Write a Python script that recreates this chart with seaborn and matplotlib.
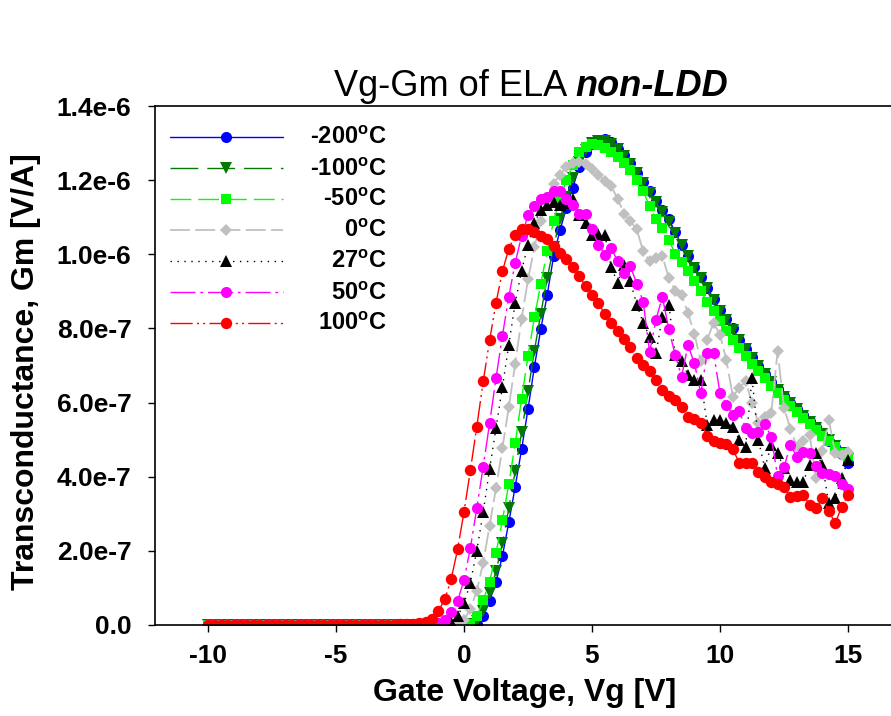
import numpy as np
import pandas as pd
import matplotlib
matplotlib.use("Agg")
import matplotlib.pyplot as plt
from matplotlib.lines import Line2D
import seaborn as sns

# ---------------- data (Gm in units of 1e-7 A/V) ----------------
vg = [-10.0, -9.75, -9.5, -9.25,
      -9.0, -8.75, -8.5, -8.25,
      -8.0, -7.75, -7.5, -7.25,
      -7.0, -6.75, -6.5, -6.25,
      -6.0, -5.75, -5.5, -5.25,
      -5.0, -4.75, -4.5, -4.25,
      -4.0, -3.75, -3.5, -3.25,
      -3.0, -2.75, -2.5, -2.25,
      -2.0, -1.75, -1.5, -1.25,
      -1.0, -0.75, -0.5, -0.25,
      0.0,
      0.25, 0.5, 0.75, 1.0,
      1.25, 1.5, 1.75, 2.0,
      2.25, 2.5, 2.75, 3.0,
      3.25, 3.5, 3.75, 4.0,
      4.25, 4.5, 4.75, 5.0,
      5.25, 5.5, 5.75, 6.0,
      6.25, 6.5, 6.75, 7.0,
      7.25, 7.5, 7.75, 8.0,
      8.25, 8.5, 8.75, 9.0,
      9.25, 9.5, 9.75, 10.0,
      10.25, 10.5, 10.75, 11.0,
      11.25, 11.5, 11.75, 12.0,
      12.25, 12.5, 12.75, 13.0,
      13.25, 13.5, 13.75, 14.0,
      14.25, 14.5, 14.75, 15.0]

gm_m200 = [0, 0, 0, 0,  0, 0, 0, 0,  0, 0, 0, 0,  0, 0, 0, 0,  0, 0, 0, 0,
           0, 0, 0, 0,  0, 0, 0, 0,  0, 0, 0, 0,  0, 0, 0, 0,  0, 0, 0, 0,
           0.0,
           0.01, 0.04, 0.24, 0.65,
           1.16, 1.86, 2.77, 3.73,
           4.74, 5.82, 6.97, 7.98,
           8.9, 9.95, 10.65, 11.25,
           11.8, 12.35, 12.75, 12.98,
           13.08, 13.1, 13.02, 12.85,
           12.67, 12.45, 12.2, 11.95,
           11.7, 11.45, 11.2, 10.95,
           10.6, 10.25, 9.95, 9.65,
           9.38, 9.1, 8.8, 8.5,
           8.25, 8.0, 7.7, 7.45,
           7.22, 7.0, 6.78, 6.56,
           6.36, 6.18, 6.0, 5.84,
           5.66, 5.5, 5.33, 5.15,
           4.97, 4.8, 4.6, 4.38]

gm_m100 = [0, 0, 0, 0,  0, 0, 0, 0,  0, 0, 0, 0,  0, 0, 0, 0,  0, 0, 0, 0,
           0, 0, 0, 0,  0, 0, 0, 0,  0, 0, 0, 0,  0, 0, 0, 0,  0, 0, 0, 0,
           0.0,
           0.02, 0.1, 0.38, 0.85,
           1.45, 2.2, 3.15, 4.15,
           5.2, 6.3, 7.4, 8.4,
           9.35, 10.2, 10.95, 11.55,
           12.05, 12.5, 12.82, 13.0,
           13.06, 13.05, 12.98, 12.85,
           12.66, 12.44, 12.18, 11.92,
           11.66, 11.4, 11.14, 10.88,
           10.58, 10.25, 9.95, 9.64,
           9.36, 9.08, 8.78, 8.48,
           8.22, 7.96, 7.68, 7.44,
           7.2, 6.98, 6.76, 6.55,
           6.35, 6.16, 5.98, 5.82,
           5.64, 5.48, 5.32, 5.15,
           4.98, 4.82, 4.65, 4.48]

gm_m50 = [0, 0, 0, 0,  0, 0, 0, 0,  0, 0, 0, 0,  0, 0, 0, 0,  0, 0, 0, 0,
          0, 0, 0, 0,  0, 0, 0, 0,  0, 0, 0, 0,  0, 0, 0, 0,  0, 0, 0, 0,
          0.01,
          0.04, 0.23, 0.67, 1.16,
          1.94, 2.83, 3.8, 4.9,
          6.1, 7.25, 8.3, 9.2,
          10.1, 10.9, 11.5, 12.0,
          12.4, 12.75, 12.9, 12.97,
          12.95, 12.88, 12.76, 12.62,
          12.47, 12.28, 12.0, 11.7,
          11.3, 10.95, 10.7, 10.38,
          10.02, 9.8, 9.55, 9.28,
          9.0, 8.72, 8.47, 8.2,
          7.92, 7.68, 7.47, 7.25,
          7.04, 6.85, 6.65, 6.45,
          6.25, 6.07, 5.9, 5.74,
          5.58, 5.42, 5.26, 5.1,
          4.95, 4.8, 4.65, 4.55]

gm_0 = [0, 0, 0, 0,  0, 0, 0, 0,  0, 0, 0, 0,  0, 0, 0, 0,  0, 0, 0, 0,
        0, 0, 0, 0,  0, 0, 0, 0,  0, 0, 0, 0,  0, 0, 0, 0,
        0.01, 0.02, 0.04, 0.07,
        0.13,
        0.44, 0.92, 1.68, 2.68,
        3.69, 4.77, 5.88, 7.05,
        8.26, 9.32, 10.19, 10.9,
        11.5, 11.9, 12.15, 12.35,
        12.47, 12.5, 12.43, 12.3,
        12.15, 11.97, 11.84, 11.5,
        11.1, 10.89, 10.67, 10.08,
        9.81, 9.9, 9.95, 9.36,
        9.02, 8.91, 8.41, 7.86,
        7.11, 7.7, 8.15, 7.83,
        7.15, 6.16, 6.4, 6.57,
        6.0, 5.45, 5.6, 5.71,
        7.38, 5.85, 5.3, 4.81,
        4.95, 5.13, 3.96, 4.7,
        5.53, 4.63, 4.58, 4.68]

gm_27 = [0, 0, 0, 0,  0, 0, 0, 0,  0, 0, 0, 0,  0, 0, 0, 0,  0, 0, 0, 0,
         0, 0, 0, 0,  0, 0, 0, 0,  0, 0, 0, 0,
         0, 0, 0, 0.01,
         0.02, 0.03, 0.08, 0.24,
         0.58,
         1.14, 2.0, 3.05, 4.21,
         5.31, 6.42, 7.56, 8.69,
         9.56, 10.26, 10.85, 11.2,
         11.32, 11.41, 11.34, 11.39,
         11.48, 11.07, 10.85, 10.53,
         10.55, 10.53, 9.65, 9.23,
         9.72, 9.27, 8.64, 8.15,
         7.78, 7.33, 8.32, 8.64,
         7.29, 7.11, 6.75, 6.6,
         6.61, 5.4, 5.53, 5.53,
         5.45, 5.35, 4.99, 4.81,
         6.66, 4.99, 4.23, 4.86,
         4.63, 4.23, 3.91, 3.86,
         3.86, 4.32, 4.65, 4.32,
         3.28, 3.42, 3.96, 4.45]

gm_50 = [0, 0, 0, 0,  0, 0, 0, 0,  0, 0, 0, 0,  0, 0, 0, 0,  0, 0, 0, 0,
         0, 0, 0, 0,  0, 0, 0, 0,  0, 0, 0, 0,
         0, 0, 0.01, 0.03,
         0.05, 0.13, 0.34, 0.65,
         1.21,
         2.08, 3.15, 4.27, 5.44,
         6.66, 7.8, 8.86, 9.77,
         10.5, 11.05, 11.3, 11.48,
         11.55, 11.72, 11.7, 11.48,
         11.34, 11.1, 11.1, 10.67,
         10.26, 9.99, 10.17, 9.81,
         9.5, 9.68, 9.2, 8.72,
         7.36, 8.24, 8.85, 7.98,
         7.28, 6.7, 7.55, 7.06,
         6.25, 7.34, 7.34, 6.25,
         5.94, 5.67, 5.78, 5.31,
         5.19, 5.2, 5.42, 5.08,
         4.02, 4.25, 4.86, 4.54,
         4.68, 4.63, 4.3, 4.11,
         4.07, 4.02, 3.8, 3.66]

gm_100 = [0, 0, 0, 0,  0, 0, 0, 0,  0, 0, 0, 0,  0, 0, 0, 0,  0, 0, 0, 0,
          0, 0, 0, 0,  0, 0, 0, 0,
          0.01, 0.01, 0.02, 0.02,
          0.03, 0.05, 0.08, 0.17,
          0.38, 0.69, 1.24, 2.04,
          3.05,
          4.18, 5.35, 6.57, 7.68,
          8.69, 9.54, 10.15, 10.53,
          10.67, 10.69, 10.6, 10.49,
          10.42, 10.22, 10.04, 9.88,
          9.66, 9.41, 9.14, 8.91,
          8.69, 8.38, 8.15, 7.94,
          7.72, 7.5, 7.2, 7.02,
          6.86, 6.6, 6.33, 6.17,
          6.06, 5.87, 5.6, 5.56,
          5.46, 5.1, 4.96, 4.9,
          4.88, 4.74, 4.38, 4.38,
          4.38, 4.14, 4.0, 3.86,
          3.8, 3.73, 3.46, 3.48,
          3.5, 3.24, 3.15, 3.42,
          3.08, 2.74, 3.19, 3.5]

temps = ["-200", "-100", "-50", "0", "27", "50", "100"]
series_vals = [gm_m200, gm_m100, gm_m50, gm_0, gm_27, gm_50, gm_100]
x_ticks = [-10, -5, 0, 5, 10, 15]
y_ticks = [0.0, 2e-7, 4e-7, 6e-7, 8e-7, 1.0e-6, 1.2e-6, 1.4e-6]
y_ticklabels = ["0.0", "2.0e-7", "4.0e-7", "6.0e-7", "8.0e-7", "1.0e-6", "1.2e-6", "1.4e-6"]

# ---------------- styling ----------------
styles = {
    "-200": dict(color="#0000FF", marker="o", ms=8.0, ls="-", lw=1.0),
    "-100": dict(color="#007A00", marker="v", ms=8.3, ls=(0, (20, 6.5)), lw=1.0),
    "-50":  dict(color="#00FF00", marker="s", ms=7.2, ls=(0, (15, 5)), lw=1.0),
    "0":    dict(color="#C0C0C0", marker="D", ms=6.4, ls=(0, (11, 3)), lw=1.3),
    "27":   dict(color="#000000", marker="^", ms=8.3, ls=(0, (1, 4)), lw=1.0),
    "50":   dict(color="#FF00FF", marker="o", ms=8.0, ls=(0, (18, 3.5, 2, 3.5)), lw=1.0),
    "100":  dict(color="#FF0000", marker="o", ms=8.2, ls=(0, (16, 3, 1.5, 3, 1.5, 3)), lw=1.0),
}

sns.set_theme(style="ticks")
plt.rcParams["font.family"] = ["Liberation Sans", "DejaVu Sans"]
plt.rcParams["mathtext.fontset"] = "custom"
plt.rcParams["mathtext.rm"] = "Liberation Sans"
plt.rcParams["mathtext.bf"] = "Liberation Sans:bold"
plt.rcParams["text.color"] = "black"
plt.rcParams["axes.labelcolor"] = "black"
plt.rcParams["xtick.color"] = "black"
plt.rcParams["ytick.color"] = "black"

W, H = 891, 716
fig = plt.figure(figsize=(W / 100, H / 100), dpi=100)
ax_l, ax_r, ax_t, ax_b = 155, 895, 106, 625
ax = fig.add_axes([ax_l / W, 1 - ax_b / H, (ax_r - ax_l) / W, (ax_b - ax_t) / H])

rows = []
for t, vals in zip(temps, series_vals):
    for x, v in zip(vg, vals):
        rows.append((t, x, v * 1e-7))
df = pd.DataFrame(rows, columns=["T", "Vg", "Gm"])

for t in temps:
    st = styles[t]
    sub = df[df["T"] == t]
    sns.lineplot(data=sub, x="Vg", y="Gm", ax=ax, color=st["color"],
                 marker=st["marker"], markersize=st["ms"], linestyle=st["ls"],
                 linewidth=st["lw"], markeredgewidth=0, markeredgecolor=st["color"],
                 legend=False, errorbar=None, estimator=None)

ax.set_xlim((ax_l - 464) / 25.6, (ax_r - 464) / 25.6)
ax.set_ylim(0, 1.4e-6)
ax.set_xticks(x_ticks)
ax.set_xticklabels([str(v) for v in x_ticks])
ax.set_yticks(y_ticks)
ax.set_yticklabels(y_ticklabels)
for lab in ax.get_xticklabels() + ax.get_yticklabels():
    lab.set_fontweight("bold")
ax.tick_params(axis="both", direction="out", length=5, width=1.0, color="black",
               labelsize=19, labelcolor="black")
ax.tick_params(axis="y", pad=12)
ax.tick_params(axis="x", pad=9)
for s in ax.spines.values():
    s.set_linewidth(1.2)
    s.set_color("black")
ax.grid(False)

ax.set_xlabel("Gate Voltage, Vg [V]", fontsize=23, fontweight="bold", color="black")
ax.set_ylabel("Transconductance, Gm [V/A]", fontsize=23, fontweight="bold", color="black")
ax.xaxis.set_label_coords(0.5, (ax_b - 678) / (ax_b - ax_t))
ax.yaxis.set_label_coords((41 - ax_l) / (ax_r - ax_l), (ax_b - 372) / (ax_b - ax_t))

# title
fig.text(575 / W, 1 - 96 / H, "Vg-Gm of ELA ", ha="right", va="baseline", fontsize=26,
         color="black")
fig.text(575 / W, 1 - 96 / H, "non-LDD", ha="left", va="baseline", fontsize=26,
         fontweight="bold", fontstyle="italic", color="black")

# legend (manual, in axes fraction)
def fx(px):
    return (px - ax_l) / (ax_r - ax_l)

def fy(py):
    return (ax_b - py) / (ax_b - ax_t)

row_y = [136.7, 168, 198.7, 229.7, 261, 292, 323]
for t, py in zip(temps, row_y):
    st = styles[t]
    ax.add_line(Line2D([fx(170), fx(283)], [fy(py), fy(py)], transform=ax.transAxes,
                       color=st["color"], linestyle=st["ls"], linewidth=st["lw"], clip_on=False))
    ax.add_line(Line2D([fx(226)], [fy(py)], transform=ax.transAxes, color=st["color"],
                       marker=st["marker"], markersize=st["ms"], markeredgewidth=0,
                       linestyle="none", clip_on=False))
    ax.text(fx(387), fy(py + 1), t + r"$^{\mathbf{o}}$C", transform=ax.transAxes,
            ha="right", va="center", fontsize=17, fontweight="bold", color="black")

fig.savefig("out.png", dpi=100)
